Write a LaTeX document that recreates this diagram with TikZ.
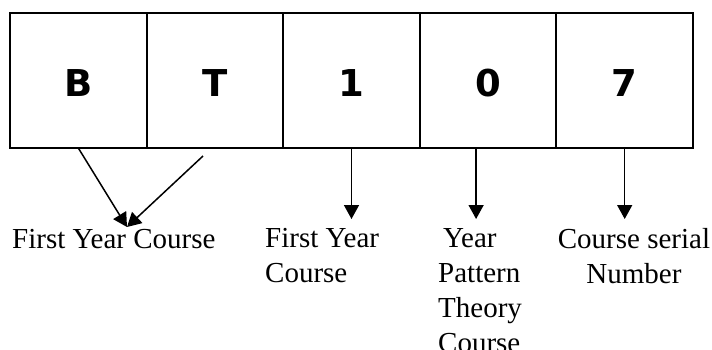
\documentclass[tikz,border=0pt]{standalone}
\usepackage{fontspec}
\setmainfont{Liberation Serif}
\newfontfamily\cellfont{DejaVu Sans}
\usetikzlibrary{arrows.meta}
\tikzset{
  cell/.style={draw, line width=2pt, outer sep=0pt, inner sep=0pt,
    minimum width=136.6pt, minimum height=135.3pt, text height=33pt,
    font=\cellfont\bfseries\fontsize{37}{37}\selectfont},
  note/.style={inner sep=0pt, font=\fontsize{29}{35}\selectfont},
  arr/.style={line width=1.5pt, -{Triangle[length=14pt,width=15pt]}}
}

\begin{document}
\begin{tikzpicture}[x=1pt, y=-1pt]
	  \useasboundingbox (0,0) rectangle (712,349);
	  \foreach \c [count=\i] in {B,T,1,0,7}
	    \node[cell] (c\i) at ({10+136.6*(\i-0.5)}, 80.35) {\c};

	  \node[note, anchor=base west] (fyc) at (12,248) {First Year Course};
	  \node[note, anchor=north west, align=left] (fy) at (265,228) {First Year\\Course};
	  \node[note, anchor=north west, align=left] (ypt) at (438,228) {\hspace*{5pt}Year\\Pattern\\Theory\\Course};
	  \node[note, anchor=north, align=center] (csn) at (634,228) {Course serial\\Number};

	  \coordinate (meet) at (127,227);
	  \coordinate (tstart) at (203,156);
	  \coordinate (tip) at (0,219);
	  \draw[arr] (c1.south) -- (meet);
	  \draw[arr] (tstart) -- (meet);
	  \draw[arr] (c3.south) -- (c3.south |- tip);
	  \draw[arr] ([xshift=-12pt]c4.south) -- ([xshift=-12pt]c4.south |- tip);
	  \draw[arr] (c5.south) -- (c5.south |- tip);
	\end{tikzpicture}
\end{document}
